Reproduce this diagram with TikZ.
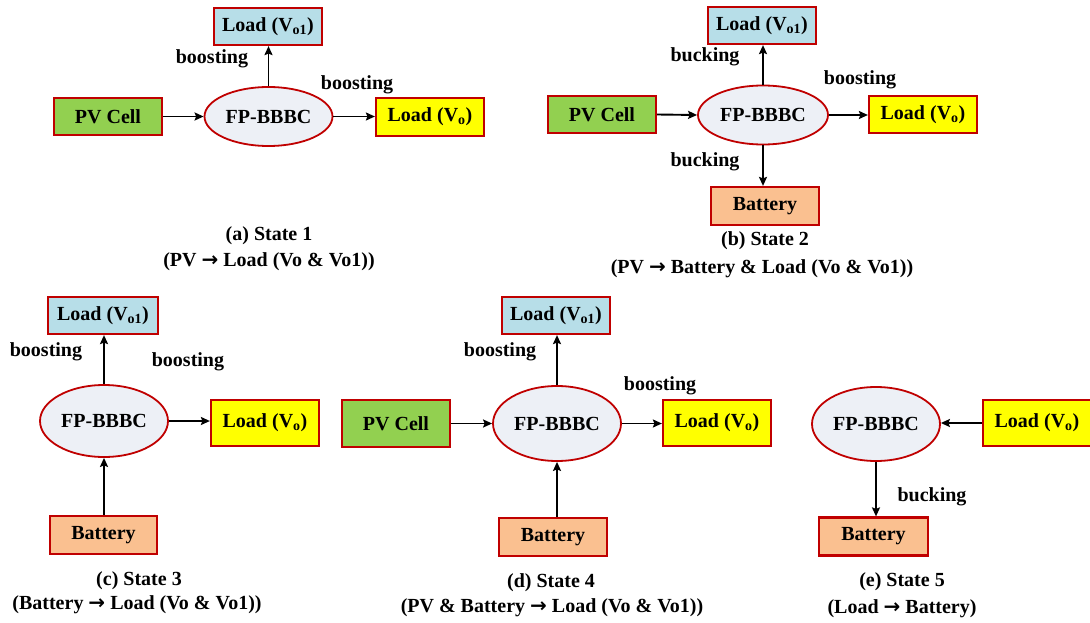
\documentclass[tikz,border=0pt]{standalone}
\usepackage{fontspec}
\setmainfont{Liberation Serif}
\newfontfamily\arrowfont{DejaVu Sans}
\usetikzlibrary{arrows.meta,shapes.geometric}
\definecolor{bred}{RGB}{192,0,0}
\definecolor{pvgreen}{RGB}{146,208,80}
\definecolor{loadblue}{RGB}{183,222,232}
\definecolor{loadyellow}{RGB}{255,255,0}
\definecolor{batpeach}{RGB}{250,192,144}
\definecolor{convfill}{RGB}{237,240,246}
\newcommand{\thickarrow}{{\arrowfont\bfseries →}}
\tikzset{
  txt/.style={font=\bfseries\fontsize{20}{22}\selectfont},
  blk/.style={txt, draw=bred, line width=2.2pt, inner sep=0pt, minimum width=108pt, minimum height=37pt},
  pvbox/.style={blk, fill=pvgreen},
  o1box/.style={blk, fill=loadblue},
  obox/.style={blk, fill=loadyellow},
  batbox/.style={blk, fill=batpeach},
  conv/.style={txt, ellipse, draw=bred, line width=1.8pt, fill=convfill, inner sep=0pt, minimum width=128pt, minimum height=59pt},
  lbl/.style={txt, inner sep=0pt},
  flow/.style={-{Stealth[length=9pt,width=8pt,inset=1.5pt]}, line width=1.9pt, black}
}
\begin{document}
\begin{tikzpicture}[x=1pt,y=-1pt]
\useasboundingbox (0,0) rectangle (1090,623);
\fill[white] (0,0) rectangle (1090,623);
% ---------- State 1 ----------
\node[pvbox] (s1pv) at (108,116.5) {PV Cell};
\node[conv] (s1c) at (268.5,116.5) {FP-BBBC};
\node[o1box] (s1o1) at (268,26.5) {Load (V\textsubscript{o1})};
\node[obox, minimum height=38pt] (s1o) at (430,117) {Load (V\textsubscript{o})};
\node[lbl] (s1l1) at (212,59) {boosting};
\node[lbl] (s1l2) at (357,85) {boosting};
\node[lbl] (s1cap1) at (269,236) {(a) State 1};
\node[lbl] (s1cap2) at (269,262) {(PV \thickarrow\ Load (Vo \& Vo1))};
\draw[flow] (s1pv.east) -- (s1c.west);
\draw[flow] (s1c.north) -- (s1c.north |- s1o1.south);
\draw[flow] (s1c.east) -- (s1c.east -| s1o.west);
% ---------- State 2 ----------
\node[pvbox] (s2pv) at (602,114.5) {PV Cell};
\node[conv, minimum width=130pt] (s2c) at (763,115) {FP-BBBC};
\node[o1box] (s2o1) at (762,25.5) {Load (V\textsubscript{o1})};
\node[obox] (s2o) at (923,114.5) {Load (V\textsubscript{o})};
\node[batbox, minimum height=38pt] (s2bat) at (765,206) {Battery};
\node[lbl] (s2l1) at (705,57) {bucking};
\node[lbl] (s2l2) at (860,80) {boosting};
\node[lbl] (s2l3) at (705,162) {bucking};
\node[lbl] (s2cap1) at (765,241) {(b) State 2};
\node[lbl] (s2cap2) at (762,269) {(PV \thickarrow\ Battery \& Load (Vo \& Vo1))};
\draw[flow] (s2pv.east) -- (s2c.west);
\draw[flow] (s2c.north) -- (s2c.north |- s2o1.south);
\draw[flow] (s2c.east) -- (s2c.east -| s2o.west);
\draw[flow] (s2c.south) -- (s2c.south |- s2bat.north);
% ---------- State 3 ----------
\node[conv, minimum height=72pt] (s3c) at (104,421) {FP-BBBC};
\node[o1box, minimum width=110pt] (s3o1) at (103,315.5) {Load (V\textsubscript{o1})};
\node[obox, minimum height=46pt] (s3o) at (265,423) {Load (V\textsubscript{o})};
\node[batbox, minimum width=107pt, minimum height=38pt] (s3bat) at (103.5,535) {Battery};
\node[lbl] (s3l1) at (46,352) {boosting};
\node[lbl] (s3l2) at (188,362) {boosting};
\node[lbl] (s3cap1) at (139,581) {(c) State 3};
\node[lbl] (s3cap2) at (137,605) {(Battery \thickarrow\ Load (Vo \& Vo1))};
\draw[flow] (s3c.north) -- (s3c.north |- s3o1.south);
\draw[flow] (s3c.east) -- (s3c.east -| s3o.west);
\draw[flow] (s3c.south |- s3bat.north) -- (s3c.south);
% ---------- State 4 ----------
\node[pvbox, minimum height=47pt] (s4pv) at (396,423.5) {PV Cell};
\node[conv, minimum height=75pt] (s4c) at (557,423.5) {FP-BBBC};
\node[o1box] (s4o1) at (556,315.5) {Load (V\textsubscript{o1})};
\node[obox, minimum height=46pt] (s4o) at (717,423) {Load (V\textsubscript{o})};
\node[batbox, minimum height=38pt] (s4bat) at (553,537) {Battery};
\node[lbl] (s4l1) at (500,352) {boosting};
\node[lbl] (s4l2) at (660,386) {boosting};
\node[lbl] (s4cap1) at (551,583) {(d) State 4};
\node[lbl] (s4cap2) at (552,608) {(PV \& Battery \thickarrow\ Load (Vo \& Vo1))};
\draw[flow] (s4pv.east) -- (s4c.west);
\draw[flow] (s4c.north) -- (s4c.north |- s4o1.south);
\draw[flow] (s4c.east) -- (s4c.east -| s4o.west);
\draw[flow] (s4c.south |- s4bat.north) -- (s4c.south);
% ---------- State 5 ----------
\node[conv, minimum height=74pt] (s5c) at (876,424) {FP-BBBC};
\node[obox, minimum height=46pt] (s5o) at (1037,423) {Load (V\textsubscript{o})};
\node[batbox, minimum width=109pt, minimum height=38pt] (s5bat) at (873.5,536.5) {Battery};
\node[lbl] (s5l1) at (932,497) {bucking};
\node[lbl] (s5cap1) at (902,582) {(e) State 5};
\node[lbl] (s5cap2) at (902,609) {(Load \thickarrow\ Battery)};
\draw[flow] (s5o.west) -- (s5o.west -| s5c.east);
\draw[flow] (s5c.south) -- (s5c.south |- s5bat.north);
\end{tikzpicture}
\end{document}
